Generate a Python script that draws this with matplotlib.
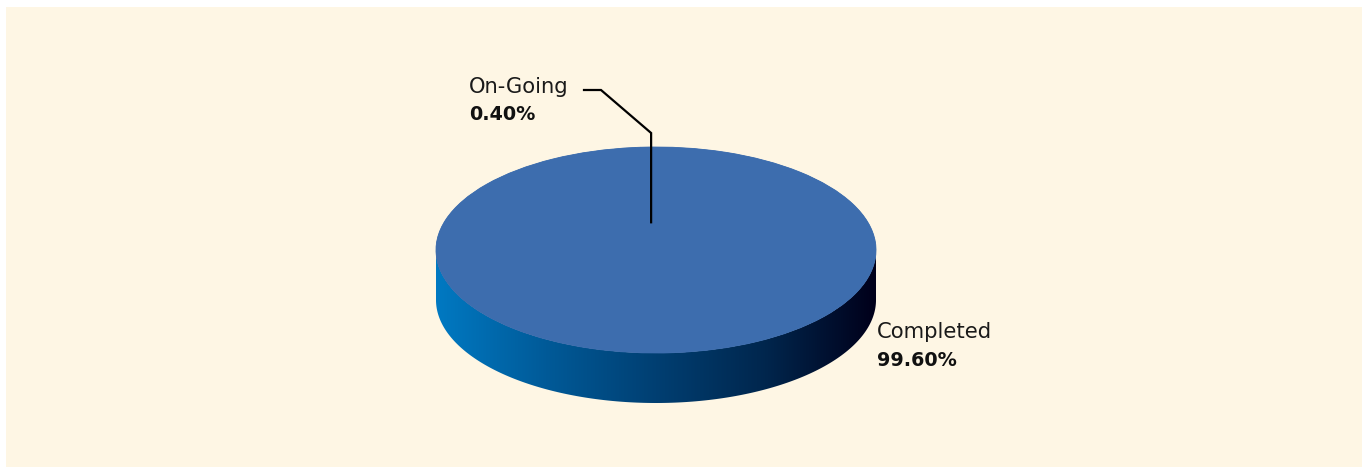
import numpy as np
import matplotlib
matplotlib.use("Agg")
import matplotlib.pyplot as plt
from matplotlib.patches import Wedge, Polygon, Rectangle, Ellipse
from matplotlib.colors import LinearSegmentedColormap
from matplotlib.transforms import Affine2D

# data
labels = ["On-Going", "Completed"]
values = [0.40, 99.60]
top_colors = ["#3d6dae", "#3d6dae"]
side_stops = ["#0079c2", "#005a98", "#003f72", "#00264d", "#00001a"]

W, H = 1367, 469
fig = plt.figure(figsize=(W / 100, H / 100), dpi=100)
fig.patch.set_facecolor("white")
ax = fig.add_axes([0, 0, 1, 1])
ax.set_xlim(0, W)
ax.set_ylim(0, H)
ax.axis("off")

# cream panel
ax.add_patch(Rectangle((6, 2), 1356, 460, facecolor="#fef6e4", edgecolor="none", zorder=0))

# pie geometry (pixel units, y up)
cx, cy = 656, H - 250
rx, ry = 220, 103
depth = 50

# side of the disc with horizontal gradient
th = np.linspace(np.pi, 2 * np.pi, 200)
top_edge = np.column_stack([cx + rx * np.cos(th), cy + ry * np.sin(th)])
bot_edge = np.column_stack([cx + rx * np.cos(th[::-1]), cy - depth + ry * np.sin(th[::-1])])
side = Polygon(np.vstack([top_edge, bot_edge]), closed=True, facecolor="none", edgecolor="none")
ax.add_patch(side)
cmap = LinearSegmentedColormap.from_list("side", side_stops)
grad = np.linspace(0, 1, 256).reshape(1, -1)
im = ax.imshow(grad, cmap=cmap, aspect="auto", extent=[cx - rx, cx + rx, cy - ry - depth, cy],
               zorder=1, interpolation="bilinear")
im.set_clip_path(side)

# top face
ax.add_patch(Ellipse((cx, cy), 2 * rx, 2 * ry, facecolor=top_colors[1], edgecolor="none", zorder=2))
tr = Affine2D().scale(rx, ry).translate(cx, cy) + ax.transData
start = 94.0
total = sum(values)
mids = []
for v, c in zip(values, top_colors):
    span = 360.0 * v / total
    w = Wedge((0, 0), 1.0, start, start + span, facecolor=c, edgecolor=c, lw=0.6,
              transform=tr, zorder=2)
    ax.add_patch(w)
    mids.append(np.deg2rad(start + span / 2))
    start += span

# leader for On-Going
m = mids[0]
ax0 = cx + 0.27 * rx * np.cos(m)
ay0 = cy + 0.27 * ry * np.sin(m)
lx = [584, 601, ax0, ax0]
ly = [H - 90, H - 90, H - 133, ay0]
ax.plot(lx, ly, color="black", lw=1.6, solid_joinstyle="miter", zorder=3)

font = "DejaVu Sans"
fs, fsb = 15.2, 13.8
ax.text(469, H - 87, labels[0], fontsize=fs, family=font, color="#1a1a1a", va="center", ha="left")
ax.text(469, H - 114, f"{values[0]:.2f}%", fontsize=fsb, family=font, fontweight="bold",
        color="#111111", va="center", ha="left")
ax.text(877, H - 332, labels[1], fontsize=fs, family=font, color="#1a1a1a", va="center", ha="left")
ax.text(877, H - 360, f"{values[1]:.2f}%", fontsize=fsb, family=font, fontweight="bold",
        color="#111111", va="center", ha="left")

fig.savefig("out.png", dpi=100, facecolor="white")
